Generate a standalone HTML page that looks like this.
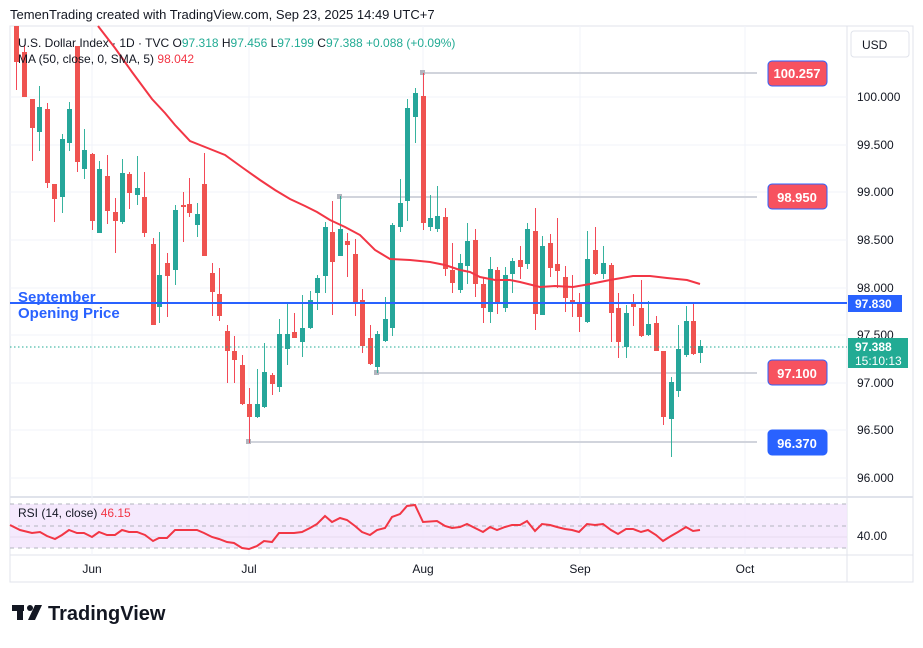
<!DOCTYPE html>
<html><head><meta charset="utf-8"><style>
body{margin:0;background:#fff;width:923px;height:643px;overflow:hidden;font-family:"Liberation Sans",sans-serif}
</style></head><body>
<svg id="s" width="923" height="643" xmlns="http://www.w3.org/2000/svg" font-family="Liberation Sans, sans-serif">
<rect width="923" height="643" fill="#fff"/>
<text x="10" y="19" font-size="13" fill="#131722">TemenTrading created with TradingView.com, Sep 23, 2025 14:49 UTC+7</text>
<rect x="10" y="26" width="903" height="556" fill="none" stroke="#e0e3eb"/>
<line x1="847" y1="26" x2="847" y2="582" stroke="#e0e3eb"/>
<line x1="10" y1="497" x2="913" y2="497" stroke="#e0e3eb" stroke-width="2"/>
<line x1="10" y1="555" x2="913" y2="555" stroke="#e0e3eb"/>
<g stroke="#f0f3fa">
<line x1="92" y1="26" x2="92" y2="555"/><line x1="249" y1="26" x2="249" y2="555"/><line x1="423" y1="26" x2="423" y2="555"/><line x1="580" y1="26" x2="580" y2="555"/><line x1="745" y1="26" x2="745" y2="555"/>
<line x1="10" y1="97" x2="847" y2="97"/><line x1="10" y1="145" x2="847" y2="145"/><line x1="10" y1="192" x2="847" y2="192"/><line x1="10" y1="240" x2="847" y2="240"/><line x1="10" y1="288" x2="847" y2="288"/><line x1="10" y1="335" x2="847" y2="335"/><line x1="10" y1="383" x2="847" y2="383"/><line x1="10" y1="430" x2="847" y2="430"/><line x1="10" y1="478" x2="847" y2="478"/>
</g>
<g stroke="#d1d4dc" stroke-width="2">
<line x1="423" y1="73" x2="757" y2="73"/><line x1="340" y1="197" x2="757" y2="197"/><line x1="377" y1="373" x2="757" y2="373"/><line x1="249" y1="442" x2="757" y2="442"/>
</g>
<g fill="#b2b5be"><rect x="420" y="70" width="5" height="5"/><rect x="337" y="194" width="5" height="5"/><rect x="374" y="370" width="5" height="5"/><rect x="246" y="439" width="5" height="5"/></g>
<g id="c"></g>
<polyline fill="none" stroke="#f23645" stroke-width="2" points="98,26 115,48 132,72 152,99 165,113 175,125 190,141 205,147 225,155 243,168 260,180 275,190 290,199 305,206 317,212 330,220 345,227 360,235 375,250 390,259 410,260 430,262 445,265 460,270 470,272 480,277 495,280 510,280 520,282 540,287 555,286 573,287 590,284 610,280 633,276 650,276 667,278 687,280 700,284"/>
<line x1="10" y1="303" x2="847" y2="303" stroke="#2962ff" stroke-width="2"/>
<line x1="10" y1="347" x2="847" y2="347" stroke="#22ab94" stroke-dasharray="1.5,2.5"/>
<text x="18" y="302" font-size="15" font-weight="bold" fill="#2962ff">September</text>
<text x="18" y="318" font-size="15" font-weight="bold" fill="#2962ff">Opening Price</text>
<text x="18" y="47" font-size="12" fill="#131722">U.S. Dollar Index · 1D · TVC <tspan>O</tspan><tspan fill="#22ab94">97.318</tspan> H<tspan fill="#22ab94">97.456</tspan> L<tspan fill="#22ab94">97.199</tspan> C<tspan fill="#22ab94">97.388</tspan> <tspan fill="#22ab94">+0.088 (+0.09%)</tspan></text>
<text x="18" y="63" font-size="12" fill="#131722">MA (50, close, 0, SMA, 5) <tspan fill="#f23645">98.042</tspan></text>
<g font-size="13" font-weight="bold" fill="#fff" text-anchor="middle">
<rect x="768" y="61" width="59" height="25" rx="4" fill="#f7525f" stroke="#2962ff"/><text x="797" y="78">100.257</text>
<rect x="768" y="184" width="59" height="25" rx="4" fill="#f7525f" stroke="#2962ff"/><text x="797" y="202">98.950</text>
<rect x="768" y="360" width="59" height="25" rx="4" fill="#f7525f" stroke="#2962ff"/><text x="797" y="378">97.100</text>
<rect x="768" y="430" width="59" height="25" rx="4" fill="#2962ff" stroke="#2962ff"/><text x="797" y="448">96.370</text>
</g>
<rect x="851" y="31" width="58" height="26" rx="3" fill="#fff" stroke="#e0e3eb"/>
<text x="862" y="49" font-size="12" fill="#131722">USD</text>
<g font-size="12" fill="#131722">
<text x="857" y="101">100.000</text><text x="857" y="149">99.500</text><text x="857" y="196">99.000</text><text x="857" y="244">98.500</text><text x="857" y="292">98.000</text><text x="857" y="339">97.500</text><text x="857" y="387">97.000</text><text x="857" y="434">96.500</text><text x="857" y="482">96.000</text>
<text x="857" y="540">40.00</text>
</g>
<rect x="848" y="295" width="54" height="17" fill="#2962ff"/><text x="855" y="308" font-size="12" font-weight="bold" fill="#fff">97.830</text>
<rect x="848" y="338" width="60" height="30" fill="#22ab94"/><text x="855" y="351" font-size="12" font-weight="bold" fill="#fff">97.388</text><text x="855" y="365" font-size="12" fill="#fff">15:10:13</text>
<rect x="10" y="504" width="837" height="44" fill="#f3e5fd" opacity="0.85"/>
<g stroke="#b2b5be" stroke-dasharray="4,4"><line x1="10" y1="504" x2="847" y2="504"/><line x1="10" y1="526" x2="847" y2="526"/><line x1="10" y1="548" x2="847" y2="548"/></g>
<line x1="10" y1="537" x2="847" y2="537" stroke="#e6dcef"/>
<polyline fill="none" stroke="#f23645" stroke-width="2" points="10,525 20,530 32,533 40,532 47,536 55,539 62,535 69,530 77,533 84,533 92,537 99,532 107,535 115,535 122,530 129,532 137,532 145,535 153,541 159,538 167,538 175,530 183,530 197,530 204,533 212,537 219,539 227,542 234,543 242,548 249,549 257,546 264,541 272,542 279,533 287,533 294,533 302,532 310,528 317,524 325,516 332,522 340,518 347,520 355,526 362,532 370,535 377,530 385,528 392,517 400,514 407,506 415,505 423,522 437,521 445,526 452,528 460,527 467,524 475,528 483,532 490,527 497,530 505,527 512,525 520,525 527,521 535,531 542,524 550,525 557,527 565,529 572,530 579,532 587,524 595,525 603,524 611,530 618,534 626,529 633,529 641,532 648,530 656,535 663,541 671,536 678,532 686,527 693,531 700,530"/>
<text x="18" y="517" font-size="12" fill="#131722">RSI (14, close) <tspan fill="#f23645">46.15</tspan></text>
<g font-size="12" fill="#131722" text-anchor="middle"><text x="92" y="573">Jun</text><text x="249" y="573">Jul</text><text x="423" y="573">Aug</text><text x="580" y="573">Sep</text><text x="745" y="573">Oct</text></g>
<g fill="#131722"><rect x="12" y="605" width="12" height="6"/><rect x="17" y="605" width="6" height="15"/><circle cx="30" cy="608" r="3"/><polygon points="35,605 42,605 35,620 28,620"/></g>
<text x="48" y="620" font-size="20" font-weight="bold" fill="#131722">TradingView</text>
</svg>
<script>
var d=[[16,26,62,26,90],[24,52,97,45,97],[32,99,128,99,161],[39,132,107,86,151],[47,109,183,103,188],[54,184,199,184,222],[62,197,139,134,213],[69,143,109,102,151],[77,46,162,46,172],[84,169,150,129,179],[92,154,221,153,230],[99,233,169,161,233],[107,176,211,155,224],[115,212,221,198,253],[122,222,173,159,224],[129,174,193,172,209],[137,195,188,156,205],[144,197,233,172,237],[153,244,325,238,325],[159,307,275,232,323],[167,263,276,253,317],[175,270,210,205,285],[183,205,207,192,242],[189,204,213,178,217],[197,225,214,203,237],[204,184,256,153,256],[212,273,292,263,316],[219,294,316,268,321],[227,331,351,325,383],[234,351,360,336,383],[242,365,404,355,405],[249,404,417,388,443],[257,417,404,369,418],[264,407,372,343,408],[272,375,384,373,395],[279,387,334,319,392],[287,349,334,303,365],[294,332,338,313,338],[302,342,328,295,357],[310,328,300,291,329],[317,293,278,275,310],[325,276,227,222,293],[332,232,262,201,315],[340,256,229,196,256],[347,241,245,233,277],[355,254,303,239,316],[362,300,346,289,353],[370,338,364,325,365],[377,367,334,331,373],[385,341,319,297,342],[392,328,225,223,336],[400,227,203,179,232],[407,201,108,99,221],[415,117,93,88,143],[423,96,223,73,230],[430,227,218,195,231],[437,229,216,186,232],[445,217,269,208,276],[452,270,283,243,293],[460,290,263,254,293],[467,266,241,223,284],[475,240,284,229,297],[483,284,308,277,323],[490,312,269,257,323],[497,270,303,267,314],[505,308,275,267,312],[512,274,261,258,293],[520,260,267,246,279],[527,264,229,223,269],[535,231,314,208,330],[542,315,246,236,315],[550,243,268,234,277],[557,264,271,218,288],[565,277,298,266,312],[572,300,304,275,317],[579,304,317,293,332],[587,322,259,231,323],[595,250,274,227,275],[603,274,263,246,279],[611,265,313,263,342],[618,308,342,293,358],[626,347,313,305,358],[633,304,307,294,326],[641,308,336,280,337],[648,335,324,301,336],[656,323,351,316,351],[663,351,417,351,425],[671,419,382,377,457],[678,391,349,325,397],[686,355,321,306,357],[693,321,354,304,355],[700,353,346,340,363]];
var g=document.getElementById('c'),h='';
d.forEach(function(c){var x=c[0],o=c[1],cl=c[2],hi=c[3],lo=c[4];var col=cl>o?'#f23645':'#22ab94';var t=Math.min(o,cl),b=Math.max(o,cl);
h+='<line x1="'+(x+0.5)+'" y1="'+hi+'" x2="'+(x+0.5)+'" y2="'+lo+'" stroke="'+col+'" opacity="0.9"/>';
h+='<rect x="'+(x-2)+'" y="'+t+'" width="5" height="'+Math.max(1,b-t)+'" fill="'+(cl>o?'#ef5350':'#26a69a')+'"/>';});
g.innerHTML=h;
</script>
</body></html>
